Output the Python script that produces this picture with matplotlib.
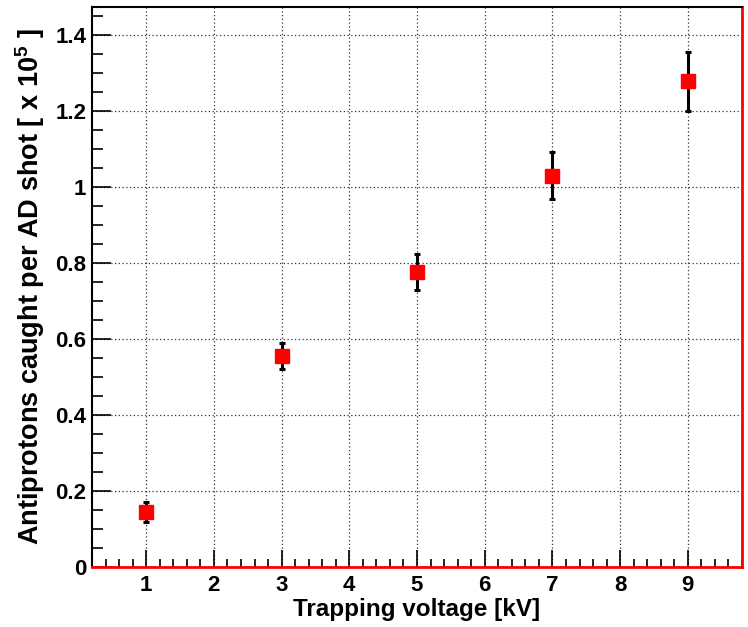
import matplotlib
matplotlib.use('Agg')
import matplotlib.pyplot as plt
from matplotlib.ticker import MultipleLocator

plt.rcParams['font.family'] = 'Liberation Sans'
plt.rcParams['font.weight'] = 'bold'
plt.rcParams['mathtext.fontset'] = 'custom'
plt.rcParams['mathtext.rm'] = 'Liberation Sans:bold'
plt.rcParams['mathtext.default'] = 'rm'

# data
voltage = [1, 3, 5, 7, 9]
caught = [0.145, 0.555, 0.776, 1.030, 1.278]
err = [0.027, 0.035, 0.048, 0.062, 0.077]

fig = plt.figure(figsize=(7.48, 6.27), dpi=100)
ax = fig.add_axes([92/748, 1-567/627, 650/748, 560/627])

ax.errorbar(voltage, caught, yerr=err, fmt='none', ecolor='black',
            elinewidth=2.2, capsize=2.5, capthick=2.2, zorder=3)
ax.plot(voltage, caught, 's', color='red', markersize=10, zorder=4)

ax.set_xlim(0.2, 9.8)
ax.set_ylim(0, 1.474)
ax.xaxis.set_major_locator(MultipleLocator(1))
ax.xaxis.set_minor_locator(MultipleLocator(0.2))
ax.yaxis.set_major_locator(MultipleLocator(0.2))
ax.yaxis.set_minor_locator(MultipleLocator(0.05))
ax.yaxis.set_major_formatter(plt.FuncFormatter(lambda v, p: '%g' % round(v, 2)))

ax.tick_params(which='both', direction='in', top=False, right=False, labelsize=16)
ax.tick_params(axis='y', which='major', length=14, width=1.2, pad=4)
ax.tick_params(axis='y', which='minor', length=8, width=1.2)
ax.tick_params(axis='x', which='major', length=12, width=1.2, pad=6)
ax.tick_params(axis='x', which='minor', length=6, width=1.2)

ax.grid(True, which='major', linestyle=(0, (1, 2)), color='black', linewidth=0.9, alpha=0.8)

for s in ['top', 'left']:
    ax.spines[s].set_color('black')
    ax.spines[s].set_linewidth(1.5)
for s in ['bottom', 'right']:
    ax.spines[s].set_color('red')
    ax.spines[s].set_linewidth(2)

ax.set_xlabel('Trapping voltage [kV]', fontsize=17.5, fontweight='bold', labelpad=1)
ax.set_ylabel(r'Antiprotons caught per AD shot [ x 10$^{5}$ ]', fontsize=19.5,
              fontweight='bold', labelpad=6)

plt.savefig('out.png', dpi=100)
